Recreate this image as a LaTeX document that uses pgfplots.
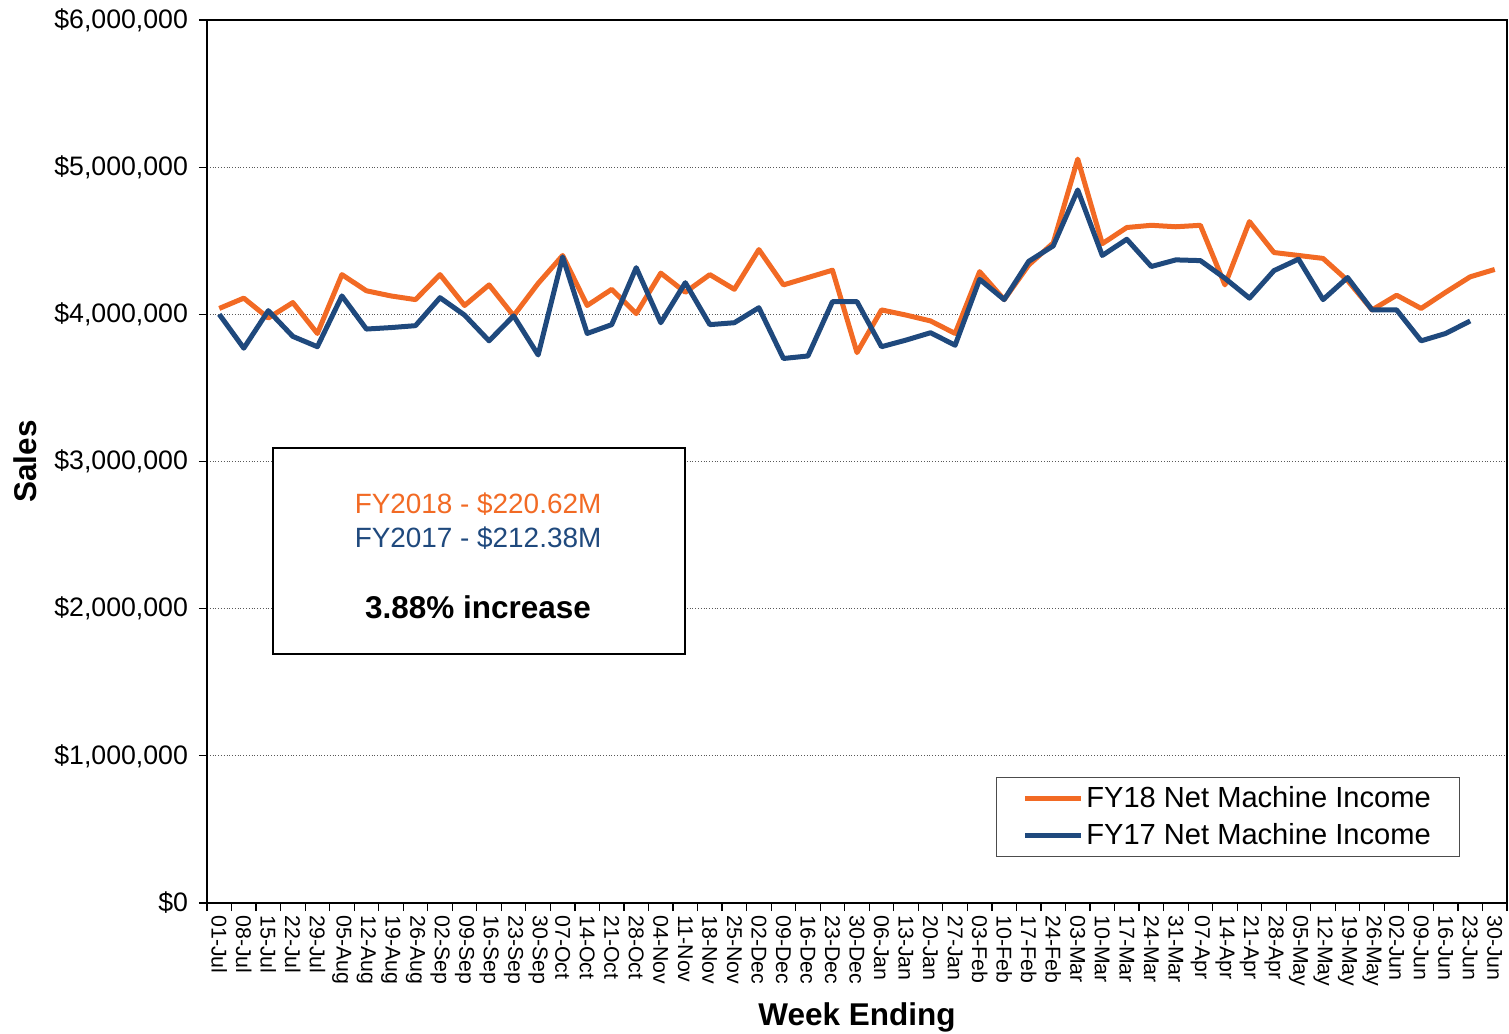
\documentclass[border=0pt]{standalone}
\usepackage{pgfplots}
\pgfplotsset{compat=1.18}
\usepackage{fontspec}
\setmainfont{Liberation Sans}
\definecolor{fyorange}{RGB}{242,106,36}
\definecolor{fyblue}{RGB}{31,73,125}
\begin{document}
\begin{tikzpicture}
\useasboundingbox (-103.5bp,-65.5bp) rectangle (651bp,451.5bp);
\begin{axis}[
  at={(0,0)}, anchor=south west,
  scale only axis, width=650bp, height=441.5bp,
  xmin=-0.5, xmax=52.5, ymin=0, ymax=6,
  xtick={0,...,52},
  xticklabels={01-Jul,08-Jul,15-Jul,22-Jul,29-Jul,05-Aug,12-Aug,19-Aug,26-Aug,02-Sep,09-Sep,16-Sep,23-Sep,30-Sep,07-Oct,14-Oct,21-Oct,28-Oct,04-Nov,11-Nov,18-Nov,25-Nov,02-Dec,09-Dec,16-Dec,23-Dec,30-Dec,06-Jan,13-Jan,20-Jan,27-Jan,03-Feb,10-Feb,17-Feb,24-Feb,03-Mar,10-Mar,17-Mar,24-Mar,31-Mar,07-Apr,14-Apr,21-Apr,28-Apr,05-May,12-May,19-May,26-May,02-Jun,09-Jun,16-Jun,23-Jun,30-Jun},
  minor xtick={-0.5,0.5,...,52.5},
  ytick={0,1,2,3,4,5,6},
  yticklabels={{\$0},{\$1,000,000},{\$2,000,000},{\$3,000,000},{\$4,000,000},{\$5,000,000},{\$6,000,000}},
  major x tick style={draw=none},
  minor x tick style={black, line width=0.6bp},
  major y tick style={black, line width=0.6bp},
  major tick length=4bp, minor tick length=4bp,
  tick align=outside, xtick pos=bottom, ytick pos=left,
  ymajorgrids, grid style={densely dotted, black!65, line width=0.5bp},
  axis line style={line width=1.2bp},
  y tick label style={font=\fontsize{13.4}{15}\selectfont, xshift=-2bp},
  x tick label style={font=\fontsize{10.7}{12}\selectfont, rotate=-90, anchor=west, inner sep=2bp},
  xlabel={Week Ending}, ylabel={Sales},
  label style={font=\bfseries\fontsize{15.8}{18}\selectfont},
  xlabel style={yshift=-2.5bp},
  ylabel style={at={(axis description cs:-0.14,0.5)}, anchor=center},
  legend style={at={(0.9638,0.0521)}, anchor=south east, draw=black!70, line width=0.6bp,
    font=\fontsize{14.6}{17}\selectfont, row sep=4bp, inner xsep=13bp, inner ysep=3bp,
    nodes={inner sep=1.3bp}},
  legend cell align=left,
  legend image code/.code={\draw[#1, line width=2.5bp] (0bp,0bp) -- (28bp,0bp);},
]
\addplot[fyorange, line width=2.5bp, line join=round] coordinates {
(0,4.04) (1,4.11) (2,3.975) (3,4.08) (4,3.87) (5,4.27) (6,4.16) (7,4.125) (8,4.10) (9,4.27)
(10,4.06) (11,4.20) (12,3.99) (13,4.21) (14,4.40) (15,4.06) (16,4.17) (17,4.005) (18,4.28) (19,4.15)
(20,4.27) (21,4.17) (22,4.44) (23,4.20) (24,4.25) (25,4.30) (26,3.74) (27,4.03) (28,3.995) (29,3.955)
(30,3.87) (31,4.29) (32,4.10) (33,4.335) (34,4.485) (35,5.055) (36,4.48) (37,4.59) (38,4.605) (39,4.595)
(40,4.605) (41,4.20) (42,4.63) (43,4.42) (44,4.40) (45,4.38) (46,4.23) (47,4.03) (48,4.13) (49,4.04)
(50,4.15) (51,4.255) (52,4.305)
};
\addlegendentry{FY18 Net Machine Income}
\addplot[fyblue, line width=2.5bp, line join=round] coordinates {
(0,4.00) (1,3.77) (2,4.025) (3,3.85) (4,3.78) (5,4.125) (6,3.90) (7,3.91) (8,3.923) (9,4.113)
(10,3.995) (11,3.82) (12,3.99) (13,3.724) (14,4.39) (15,3.87) (16,3.93) (17,4.317) (18,3.943) (19,4.215)
(20,3.93) (21,3.943) (22,4.045) (23,3.70) (24,3.717) (25,4.086) (26,4.086) (27,3.78) (28,3.825) (29,3.875)
(30,3.79) (31,4.238) (32,4.10) (33,4.36) (34,4.465) (35,4.845) (36,4.40) (37,4.51) (38,4.325) (39,4.37)
(40,4.365) (41,4.245) (42,4.11) (43,4.297) (44,4.375) (45,4.10) (46,4.25) (47,4.03) (48,4.03) (49,3.82)
(50,3.87) (51,3.955)
};
\addlegendentry{FY17 Net Machine Income}
\node[draw=black, fill=white, line width=1.2bp, minimum width=206bp, minimum height=103bp, anchor=north west, inner sep=0pt] at (axis cs:2.15,3.098) {};
\node[anchor=base, text=fyorange, font=\fontsize{14}{16}\selectfont, inner sep=0pt] at (axis cs:10.55,2.650) {FY2018 - \$220.62M};
\node[anchor=base, text=fyblue, font=\fontsize{14}{16}\selectfont, inner sep=0pt] at (axis cs:10.55,2.419) {FY2017 - \$212.38M};
\node[anchor=base, font=\bfseries\fontsize{15.8}{18}\selectfont, inner sep=0pt] at (axis cs:10.55,1.930) {3.88\% increase};
\end{axis}
\end{tikzpicture}
\end{document}
